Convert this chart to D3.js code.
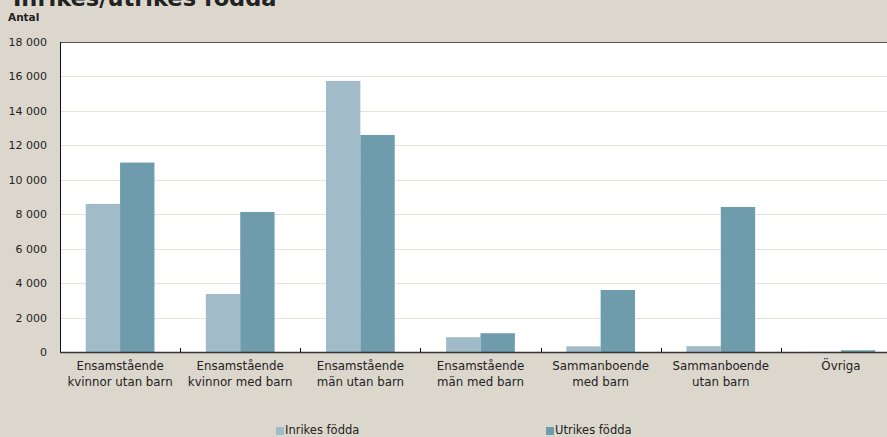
<!DOCTYPE html>
<html><head><meta charset="utf-8">
<script src="https://cdn.jsdelivr.net/npm/d3@7"></script>
<style>
html,body{margin:0;padding:0;background:#dcd7cd;overflow:hidden;}
svg{display:block;}
text{font-family:"DejaVu Sans",sans-serif;fill:#222;}
</style></head>
<body>
<svg id="c" width="887" height="437"></svg>
<script>
const categories = [
  ["Ensamstående","kvinnor utan barn"],
  ["Ensamstående","kvinnor med barn"],
  ["Ensamstående","män utan barn"],
  ["Ensamstående","män med barn"],
  ["Sammanboende","med barn"],
  ["Sammanboende","utan barn"],
  ["Övriga"]
];
const seriesNames = ["Inrikes födda","Utrikes födda"];
const inrikes = [8600, 3370, 15740, 860, 330, 340, 10];
const utrikes = [11000, 8130, 12600, 1090, 3600, 8420, 100];
const yTicks = [0,2000,4000,6000,8000,10000,12000,14000,16000,18000];
const colors = ["#a1bcc8","#6e9cad"];

const svg = d3.select("#c");
const L=60, T=42, R=901, B=352;
const x = d3.scaleBand().domain(d3.range(categories.length)).range([L,R]).paddingInner(0).paddingOuter(0);
const bw = x.bandwidth()*0.286;
const off = (x.bandwidth()-2*bw)/2;
const y = d3.scaleLinear().domain([0,18000]).range([B,T]);

svg.append("rect").attr("x",L).attr("y",T).attr("width",R-L).attr("height",B-T).attr("fill","#fff");
svg.append("g").selectAll("line").data(yTicks.filter(d=>d>0&&d<18000)).join("line")
  .attr("x1",L).attr("x2",R).attr("y1",d=>Math.round(y(d))+0.5).attr("y2",d=>Math.round(y(d))+0.5)
  .attr("stroke","#e6e1d9").attr("stroke-width",1);

const data = [inrikes, utrikes];
data.forEach((vals,si)=>{
  svg.append("g").selectAll("rect").data(vals).join("rect")
    .attr("x",(d,i)=>x(i)+off+si*bw).attr("width",bw)
    .attr("y",d=>y(d)).attr("height",d=>B-y(d))
    .attr("fill",colors[si]);
});

// border
svg.append("line").attr("x1",L).attr("x2",R).attr("y1",T+0.5).attr("y2",T+0.5).attr("stroke","#555");
svg.append("line").attr("x1",L+0.5).attr("x2",L+0.5).attr("y1",T).attr("y2",B+1).attr("stroke","#111");
svg.append("line").attr("x1",L).attr("x2",R).attr("y1",B+0.5).attr("y2",B+0.5).attr("stroke","#333").attr("stroke-width",1.5);

// x ticks at band boundaries
svg.append("g").selectAll("line").data(d3.range(1,categories.length)).join("line")
  .attr("x1",d=>Math.round(x(d))+0.5).attr("x2",d=>Math.round(x(d))+0.5)
  .attr("y1",B-4).attr("y2",B).attr("stroke","#111");

// y labels
svg.append("g").selectAll("text").data(yTicks).join("text")
  .attr("x",47).attr("y",d=>y(d)+4).attr("text-anchor","end")
  .attr("font-size",11).text(d=>d3.format(",")(d).replace(/,/g," "));

// x labels
const xl = svg.append("g").selectAll("text").data(categories).join("text")
  .attr("text-anchor","middle").attr("font-size",11.8);
xl.each(function(lines,i){
  const t=d3.select(this);
  lines.forEach((ln,k)=>t.append("tspan").attr("x",x(i)+x.bandwidth()/2).attr("y",370+k*16).text(ln));
});

// title
svg.append("text").attr("x",13).attr("y",6).attr("font-size",22.5).attr("font-weight","bold").text("Inrikes/utrikes födda");
svg.append("text").attr("x",8).attr("y",21).attr("font-size",10.5).attr("font-weight","bold").text("Antal");

// legend
const lx=[276,546];
seriesNames.forEach((n,i)=>{
  svg.append("rect").attr("x",lx[i]).attr("y",427).attr("width",8).attr("height",8).attr("fill",colors[i]);
  svg.append("text").attr("x",lx[i]+9).attr("y",434).attr("font-size",11.5).text(n);
});
</script>
</body></html>
